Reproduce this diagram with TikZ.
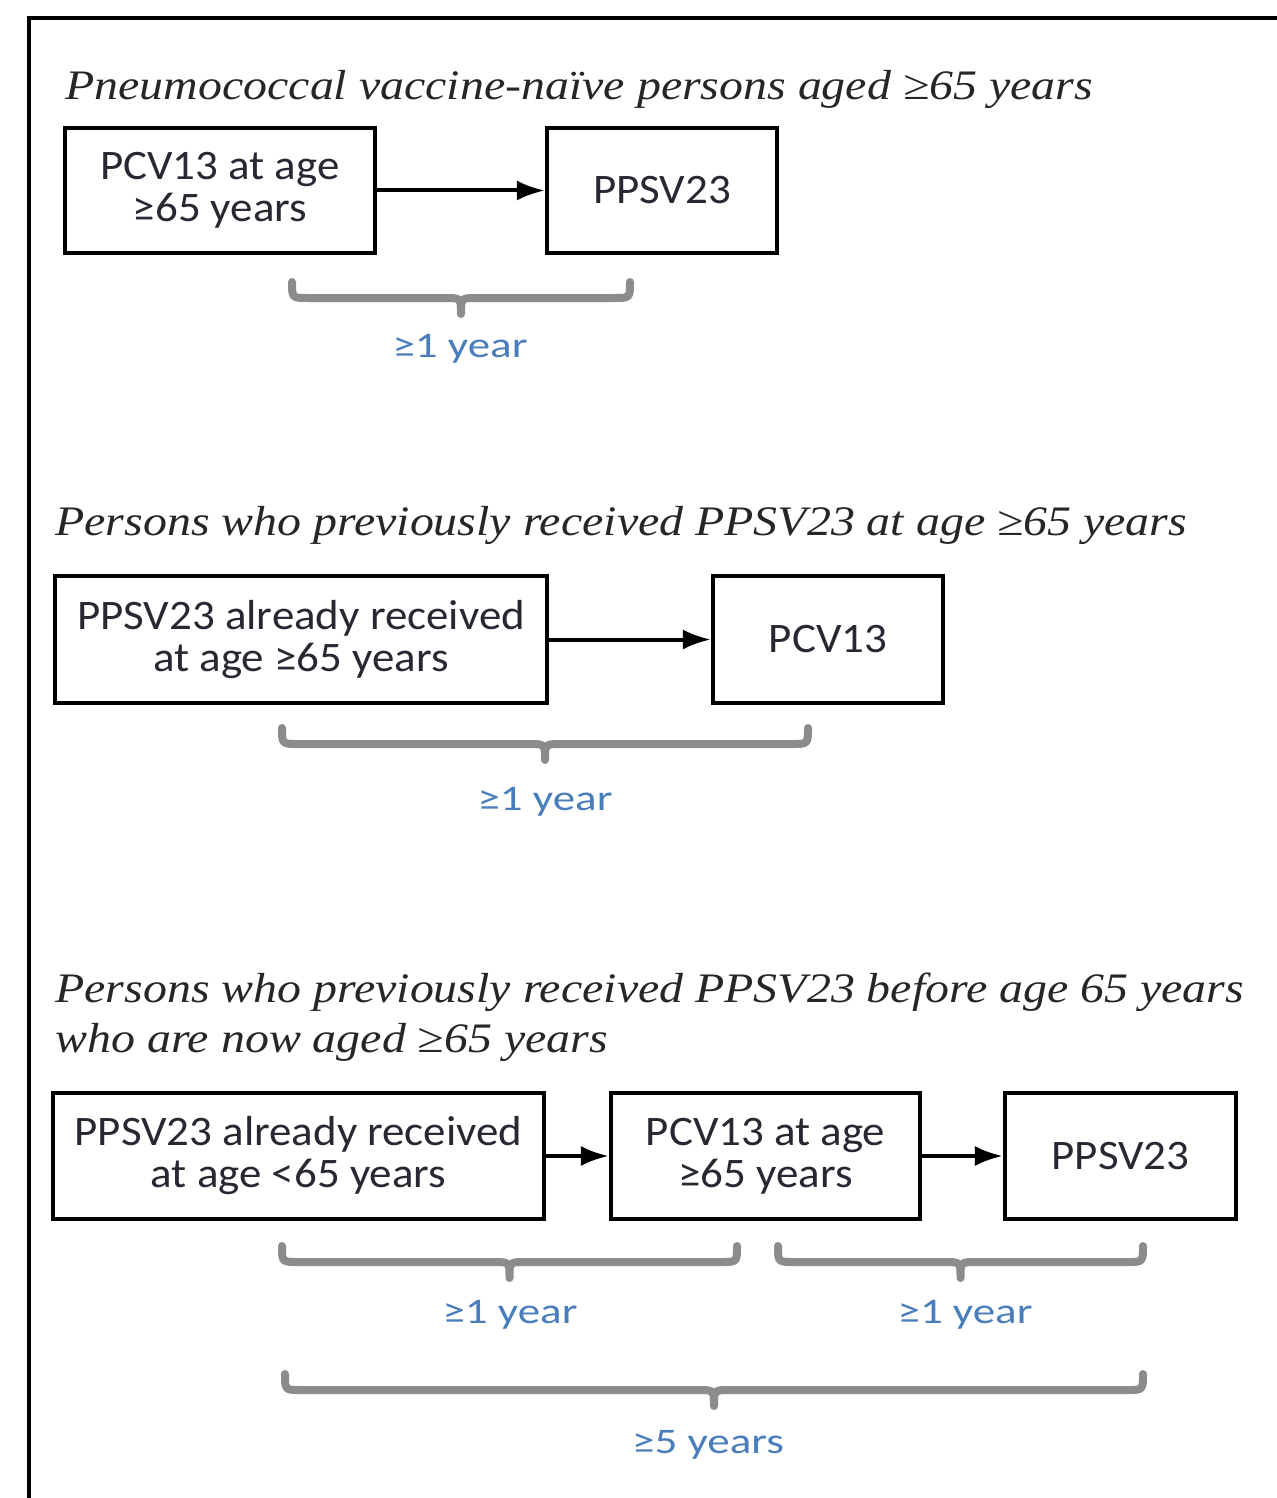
\documentclass[tikz,border=0pt]{standalone}
\usepackage{fontspec}
\setmainfont{Carlito}
\newfontfamily\boxfont[FakeStretch=1.07]{Carlito}
\newfontfamily\lblfont[FakeStretch=1.25]{Carlito}
\newfontfamily\ttlfont[FakeStretch=1.14]{Liberation Serif}
\usetikzlibrary{arrows.meta}
\definecolor{lblblue}{RGB}{74,126,187}
\definecolor{brgray}{RGB}{140,140,140}
\definecolor{txtdark}{RGB}{40,40,50}
\tikzset{
  box/.style={draw=black, line width=2.1pt, fill=white, align=center, inner sep=0pt,
    font=\boxfont\fontsize{21}{21}\selectfont, text=txtdark},
  arr/.style={line width=2pt, -{Latex[length=14pt,width=10pt]}},
  ttl/.style={anchor=base west, inner sep=0pt, font=\ttlfont\itshape\fontsize{21}{22}\selectfont, text=black!85},
  lbl/.style={anchor=base, inner sep=0pt, font=\lblfont\fontsize{18}{19}\selectfont, text=lblblue},
  curly/.style={draw=brgray, line width=4pt, line cap=round, line join=round}
}
\newcommand{\mybrace}[4]{% x1, x2, ytop, name of tip coordinate
  \pgfmathsetmacro{\xm}{(#1+#2)/2}
  \pgfmathsetmacro{\yb}{#3+16}
  \pgfmathsetmacro{\yt}{#3+32}
  \draw[curly] (#1,#3) .. controls (#1,\yb) and (#1,\yb) .. (#1+16,\yb) -- (\xm-16,\yb)
     .. controls (\xm,\yb) .. (\xm,\yt) .. controls (\xm,\yb) .. (\xm+16,\yb) -- (#2-16,\yb)
     .. controls (#2,\yb) and (#2,\yb) .. (#2,#3);
  \coordinate (#4) at (\xm,\yt);
}
\begin{document}
\begin{tikzpicture}[x=0.5pt,y=-0.5pt]
\useasboundingbox (0,0) rectangle (1277,1498);
\fill[white] (0,0) rectangle (1277,1498);
% frame
\draw[line width=2pt] (1277,18) -- (29,18) -- (29,1498);

% section 1
\node[ttl] (t1) at (65,100) {Pneumococcal vaccine-naïve persons aged ≥65 years};
\node[box, minimum width=155pt, minimum height=62.5pt] (a1) at (220,190.5) {PCV13 at age\\≥65 years};
\node[box, minimum width=115pt, minimum height=62.5pt] (a2) at (662,190.5) {PPSV23};
\draw[arr] (a1) -- (a2);
\mybrace{292}{630}{282}{bt1}
\node[lbl] (l1) at (460,357) {≥1 year};

% section 2
\node[ttl] (t2) at (55,535) {Persons who previously received PPSV23 at age ≥65 years};
\node[box, minimum width=246pt, minimum height=63.5pt] (b1) at (301,639.5) {PPSV23 already received\\at age ≥65 years};
\node[box, minimum width=115pt, minimum height=63.5pt] (b2) at (828,639.5) {PCV13};
\draw[arr] (b1) -- (b2);
\mybrace{282}{808}{728}{bt2}
\node[lbl] (l2) at (545,810) {≥1 year};

% section 3
\node[ttl] (t3) at (55,1002) {Persons who previously received PPSV23 before age 65 years};
\node[ttl] (t4) at (55,1052) {who are now aged ≥65 years};
\node[box, minimum width=245.5pt, minimum height=63pt] (c1) at (298.5,1156) {PPSV23 already received\\at age <65 years};
\node[box, minimum width=154.5pt, minimum height=63pt] (c2) at (765.5,1156) {PCV13 at age\\≥65 years};
\node[box, minimum width=115.5pt, minimum height=63pt] (c3) at (1120.5,1156) {PPSV23};
\draw[arr] (c1) -- (c2);
\draw[arr] (c2) -- (c3);
\mybrace{282}{737}{1246}{bt3}
\node[lbl] (l3) at (510,1323) {≥1 year};
\mybrace{778}{1143}{1246}{bt4}
\node[lbl] (l4) at (965,1323) {≥1 year};
\mybrace{285}{1143}{1374}{bt5}
\node[lbl] (l5) at (708,1453) {≥5 years};
\end{tikzpicture}
\end{document}
